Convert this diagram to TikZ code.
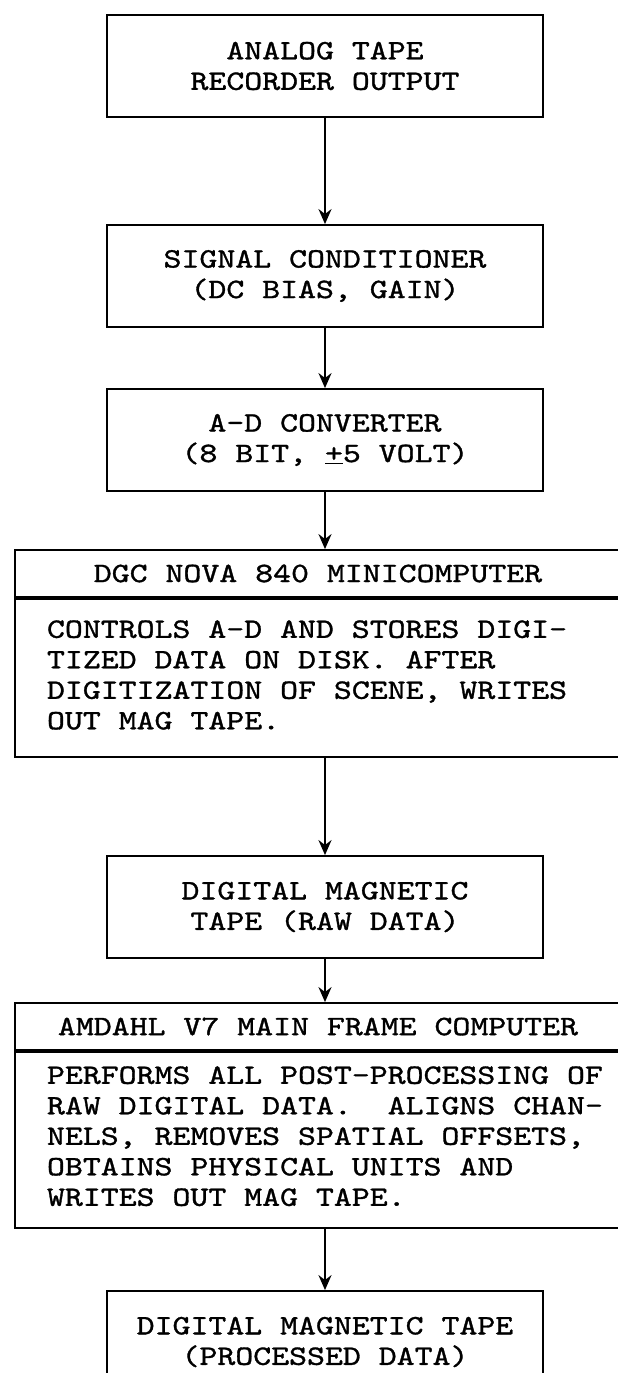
\documentclass[tikz,border=0pt]{standalone}
\usepackage{fontspec}
\setmonofont{lmmono10-regular.otf}[FakeStretch=1.22, FakeBold=1.2]
\usetikzlibrary{positioning}
\usetikzlibrary{arrows.meta}

% typed lines of a description panel, flush left
\newcommand\bodylines[1]{\makebox[574pt][l]{\begin{tabular}[t]{@{}l@{}}#1\end{tabular}}}

\begin{document}
\begin{tikzpicture}[x=1pt, y=-1pt,
    font=\fontsize{28}{30.5}\selectfont\ttfamily\frenchspacing,
    >={Stealth[length=15pt, width=13pt]},
    box/.style={draw, rectangle, line width=1.8pt, align=center, minimum width=436pt, minimum height=102pt, inner sep=0pt},
    headbox/.style={draw, rectangle, line width=1.8pt, minimum width=606pt, minimum height=47pt, inner sep=0pt},
    textbox/.style={draw, rectangle, line width=1.8pt, inner xsep=32pt, inner ysep=0pt},
    flow/.style={->, line width=2pt}]
    \useasboundingbox (0,0) rectangle (618,1373);

    % Digitizing chain
    \node[box] (in1) at (325,66) {ANALOG TAPE\\RECORDER OUTPUT};
    \node[box] (cond) at (325,276) {SIGNAL CONDITIONER\\(DC BIAS, GAIN)};
    \node[box] (adc) at (325,440) {A-D CONVERTER\\(8 BIT, \underline{+}5 VOLT)};

    \node[headbox] (nova) at (318,573.5) {DGC NOVA 840 MINICOMPUTER};
    \node[textbox, text height=39pt, text depth=119pt, below=0pt of nova.south west, anchor=north west] (novabody)
        {\bodylines{CONTROLS A-D AND STORES DIGI-\\TIZED DATA ON DISK. AFTER\\DIGITIZATION OF SCENE, WRITES\\OUT MAG TAPE.}};

    \node[box] (tape1) at (325,907) {DIGITAL MAGNETIC\\TAPE (RAW DATA)};

    % Post-processing
    \node[headbox] (amdahl) at (318,1026.5) {AMDAHL V7 MAIN FRAME COMPUTER};
    \node[textbox, text height=32pt, text depth=144pt, below=0pt of amdahl.south west, anchor=north west] (amdahlbody)
        {\bodylines{PERFORMS ALL POST-PROCESSING OF\\RAW DIGITAL DATA.~~ALIGNS CHAN-\\NELS, REMOVES SPATIAL OFFSETS,\\OBTAINS PHYSICAL UNITS AND\\WRITES OUT MAG TAPE.}};

    \node[box] (tape2) at (325,1342) {DIGITAL MAGNETIC TAPE\\(PROCESSED DATA)};

    \draw[flow] (in1) -- (cond);
    \draw[flow] (cond) -- (adc);
    \draw[flow] (adc.south) -- (adc.south |- nova.north);
    \draw[flow] (novabody.south -| tape1) -- (tape1);
    \draw[flow] (tape1.south) -- (tape1.south |- amdahl.north);
    \draw[flow] (amdahlbody.south -| tape2) -- (tape2);
\end{tikzpicture}
\end{document}
